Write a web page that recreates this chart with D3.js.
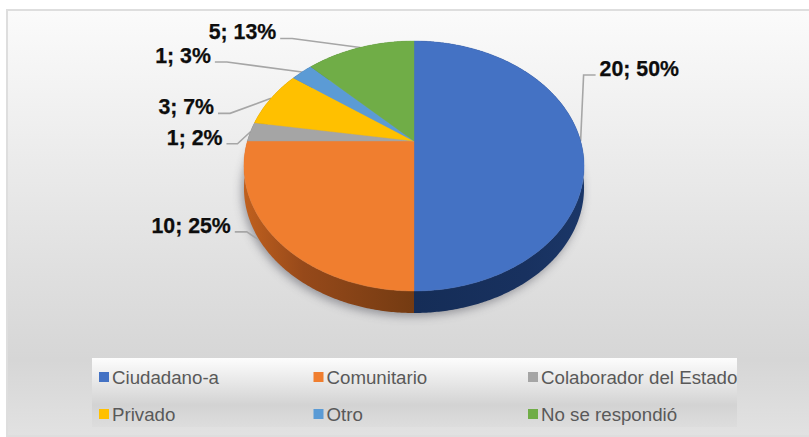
<!DOCTYPE html>
<html><head><meta charset="utf-8">
<script src="https://cdn.jsdelivr.net/npm/d3@7"></script>
<style>html,body{margin:0;padding:0;background:#fff}svg{display:block}text{font-family:"Liberation Sans",Arial,sans-serif}</style>
</head><body><svg id="c" width="809" height="437"></svg>
<script>
const categories = ["Ciudadano-a","Comunitario","Colaborador del Estado","Privado","Otro","No se respondió"];
const values = [20,10,1,3,1,5];
const percents = [50,25,2,7,3,13];
const colors = ["#4472c4","#f07e2f","#a5a5a5","#ffc000","#5b9bd5","#70ad47"];

// layout only
const cx=414, cy=141, R=166.6, B=120, K=0.2, depth=22;
const leaderElbow = [[170,-66],[-30,-8],[-13,12],[-41,15],[-75,-10],[-68,-9]];
const leaderEndDx = [12,12,11,12,12,12];
const leaderEndY = [0,12,0,0,0,0];

const svg=d3.select("#c");
const defs=svg.append("defs");
function grad(id,attrs,stops){const g=defs.append("linearGradient").attr("id",id).attr("gradientUnits","userSpaceOnUse");
  Object.entries(attrs).forEach(([k,v])=>g.attr(k,v));
  stops.forEach(s=>g.append("stop").attr("offset",s[0]).attr("stop-color",s[1]));}
grad("bg",{x1:0,y1:10,x2:0,y2:437},[[0,"#fbfbfb"],[0.82,"#d6d6d6"],[1,"#e2e2e2"]]);
grad("lg",{x1:0,y1:358,x2:0,y2:427},[[0,"#fdfdfd"],[0.68,"#d3d3d3"],[1,"#dddddd"]]);
grad("w0",{x1:584,y1:0,x2:414,y2:0},[[0,"#1b3768"],[0.35,"#18315f"],[1,"#152d57"]]);
grad("w1",{x1:244,y1:0,x2:414,y2:0},[[0,"#c0601e"],[0.35,"#96491a"],[1,"#743b12"]]);
defs.append("filter").attr("id","sh").attr("x","-20%").attr("y","-20%").attr("width","140%").attr("height","140%")
  .append("feGaussianBlur").attr("stdDeviation",5);

svg.append("rect").attr("x",6).attr("y",9).attr("width",803).attr("height",428).attr("fill","#dedede");
svg.append("rect").attr("x",8).attr("y",11).attr("width",801).attr("height",424).attr("fill","url(#bg)");

const pie=d3.pie().sort(null).value(d=>d)(values);
const px=a=>{const u=Math.sin(a),v=Math.cos(a),w=1+K*v;return [cx+R*u/w, cy-B*v/w];};
const line=d3.line();
const arcPts=(a0,a1)=>{const n=Math.max(2,Math.ceil((a1-a0)/0.01));return d3.range(n+1).map(i=>px(a0+(a1-a0)*i/n));};

const g=svg.append("g");
const anchors=pie.map(s=>px((s.startAngle+s.endAngle)/2));

// shadow
g.append("path").attr("d",line(arcPts(0,2*Math.PI).map(p=>[p[0]-2,p[1]+depth+3]))+"Z")
  .attr("fill","#4a4a55").attr("opacity",.5).attr("filter","url(#sh)");

// leaders
const elbows=anchors.map((a,i)=>[a[0]+leaderElbow[i][0]*(i==0?0:1)+(i==0?3:0), a[1]+leaderElbow[i][1]]);
const leaderGen=d3.line();
pie.forEach((s,i)=>{
  const a=anchors[i],e=elbows[i];
  const sgn=i==0?1:-1;
  const tail=[e[0]+sgn*leaderEndDx[i],e[1]];
  g.append("path").attr("d",leaderGen([[a[0],a[1]+leaderEndY[i]],e,tail]))
   .attr("fill","none").attr("stroke","#a6a6a6").attr("stroke-width",1.6);
});

// side walls
pie.forEach((s,i)=>{
  const top=arcPts(s.startAngle,s.endAngle);
  const bottom=top.map(p=>[p[0],p[1]+depth]).reverse();
  g.append("path").attr("d",line(top.concat(bottom))+"Z")
   .attr("fill",i<2?`url(#w${i})`:d3.color(colors[i]).darker(1.4));
});
// top faces
pie.forEach((s,i)=>{
  const pts=[[cx,cy]].concat(arcPts(s.startAngle,s.endAngle));
  g.append("path").attr("d",line(pts)+"Z").attr("fill",colors[i]).attr("stroke",colors[i]).attr("stroke-width",.4);
});

// data labels
pie.forEach((s,i)=>{
  const e=elbows[i],sgn=i==0?1:-1;
  svg.append("text").attr("x",e[0]+sgn*(leaderEndDx[i]+4)).attr("y",e[1]+1)
    .attr("text-anchor",i==0?"start":"end").attr("font-size",21.3).attr("font-weight",700).attr("fill","#0d0d0d")
    .attr("stroke","#0d0d0d").attr("stroke-width",.25)
    .text(`${values[i]}; ${percents[i]}%`);
});

// legend
svg.append("rect").attr("x",92).attr("y",358).attr("width",645).attr("height",69).attr("fill","url(#lg)");
const colX=d3.scalePoint().domain([0,1,2]).range([99,528]);
const rowY=d3.scalePoint().domain([0,1]).range([377,414]);
categories.forEach((c,i)=>{
  const x=colX(i%3),y=rowY(Math.floor(i/3));
  svg.append("rect").attr("x",x).attr("y",y-5).attr("width",10).attr("height",10).attr("fill",colors[i]);
  svg.append("text").attr("x",x+13).attr("y",y+6.5).attr("font-size",18.7).attr("fill","#595959").text(c);
});
</script></body></html>
